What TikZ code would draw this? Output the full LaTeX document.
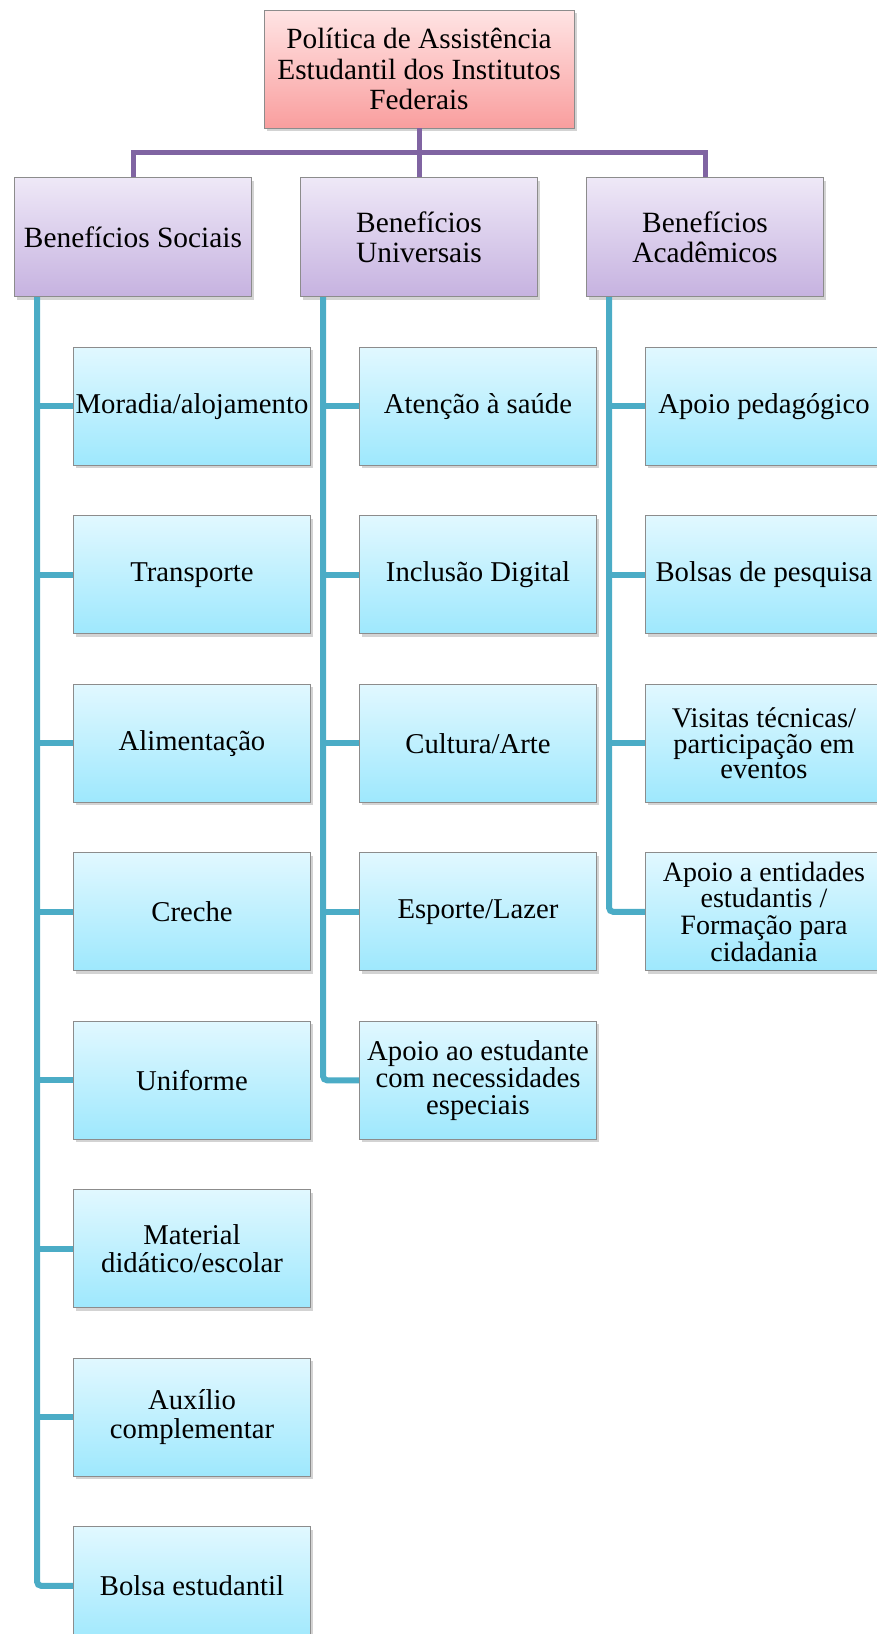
\documentclass[tikz,border=0pt]{standalone}
\usepackage{fontspec}
\setmainfont{Liberation Serif}
\usepackage{xcolor}
\usepackage{tikz}
\usetikzlibrary{positioning, shadows}
\definecolor{pinkT}{RGB}{255,228,228}
\definecolor{pinkB}{RGB}{249,158,158}
\definecolor{lilT}{RGB}{238,232,247}
\definecolor{lilB}{RGB}{198,178,224}
\definecolor{aquaT}{RGB}{225,248,255}
\definecolor{aquaB}{RGB}{158,232,253}
\definecolor{plum}{RGB}{128,100,162}
\definecolor{seaT}{RGB}{75,172,198}
\tikzset{
  box/.style={rectangle, draw=black!45, line width=0.8pt, align=center, inner sep=2pt,
              minimum width=237pt, minimum height=118pt, font=\fontsize{28.7}{28.5}\selectfont,
              drop shadow={shadow xshift=2.5pt, shadow yshift=-3pt, opacity=0.35}},
  rootb/.style={box, minimum width=310pt, top color=pinkT, bottom color=pinkB,
                font=\fontsize{29.3}{30.5}\selectfont},
  grpb/.style={box, minimum height=119pt, top color=lilT, bottom color=lilB,
               font=\fontsize{29.4}{29.5}\selectfont},
  itemb/.style={box, top color=aquaT, bottom color=aquaB},
  trunk/.style={line width=5pt, draw=plum},
  twig/.style={line width=6pt, draw=seaT, rounded corners=4pt},
}
\begin{document}
\begin{tikzpicture}[node distance=49.7pt]
    \useasboundingbox (0,0) rectangle (876pt,-1634pt);

    \node[rootb] (root) at (419pt,-69pt) {Política de Assistência\\Estudantil dos Institutos\\Federais};

    \node[grpb, below=49pt of root, xshift=-286pt] (soc) {Benefícios Sociais};
    \node[grpb, below=49pt of root] (uni) {Benefícios\\Universais};
    \node[grpb, below=49pt of root, xshift=286pt] (aca) {Benefícios\\Acadêmicos};

    % sociais
    \node[itemb, below=of soc, xshift=59pt] (s1) {Moradia/alojamento};
    \node[itemb, below=of s1] (s2) {Transporte};
    \node[itemb, below=of s2] (s3) {Alimentação};
    \node[itemb, below=of s3] (s4) {Creche};
    \node[itemb, below=of s4] (s5) {Uniforme};
    \node[itemb, below=of s5] (s6) {Material\\didático/escolar};
    \node[itemb, below=of s6] (s7) {Auxílio\\complementar};
    \node[itemb, below=of s7] (s8) {Bolsa estudantil};

    % universais
    \node[itemb, below=of uni, xshift=59pt] (u1) {Atenção à saúde};
    \node[itemb, below=of u1] (u2) {Inclusão Digital};
    \node[itemb, below=of u2] (u3) {Cultura/Arte};
    \node[itemb, below=of u3] (u4) {Esporte/Lazer};
    \node[itemb, below=of u4, font=\fontsize{28.7}{27}\selectfont] (u5) {Apoio ao estudante\\com necessidades\\especiais};

    % academicos
    \node[itemb, below=of aca, xshift=59pt] (a1) {Apoio pedagógico};
    \node[itemb, below=of a1] (a2) {Bolsas de pesquisa};
    \node[itemb, below=of a2, font=\fontsize{28.5}{25.5}\selectfont] (a3) {Visitas técnicas/\\participação em\\eventos};
    \node[itemb, below=of a3, font=\fontsize{28}{26.8}\selectfont] (a4) {Apoio a entidades\\estudantis /\\Formação para\\cidadania};

    % top level links
    \draw[trunk] (root.south) -- ++(0,-24pt) -| (soc.north);
    \draw[trunk] (root.south) -- (uni.north);
    \draw[trunk] (root.south) -- ++(0,-24pt) -| (aca.north);

    % column links
    \coordinate (socT) at ([xshift=23pt]soc.south west);
    \coordinate (uniT) at ([xshift=23pt]uni.south west);
    \coordinate (acaT) at ([xshift=23pt]aca.south west);

    \draw[twig] (socT) |- (s8.west);
    \draw[twig] (socT |- s1.west) -- (s1.west);
    \draw[twig] (socT |- s2.west) -- (s2.west);
    \draw[twig] (socT |- s3.west) -- (s3.west);
    \draw[twig] (socT |- s4.west) -- (s4.west);
    \draw[twig] (socT |- s5.west) -- (s5.west);
    \draw[twig] (socT |- s6.west) -- (s6.west);
    \draw[twig] (socT |- s7.west) -- (s7.west);

    \draw[twig] (uniT) |- (u5.west);
    \draw[twig] (uniT |- u1.west) -- (u1.west);
    \draw[twig] (uniT |- u2.west) -- (u2.west);
    \draw[twig] (uniT |- u3.west) -- (u3.west);
    \draw[twig] (uniT |- u4.west) -- (u4.west);

    \draw[twig] (acaT) |- (a4.west);
    \draw[twig] (acaT |- a1.west) -- (a1.west);
    \draw[twig] (acaT |- a2.west) -- (a2.west);
    \draw[twig] (acaT |- a3.west) -- (a3.west);
\end{tikzpicture}
\end{document}
